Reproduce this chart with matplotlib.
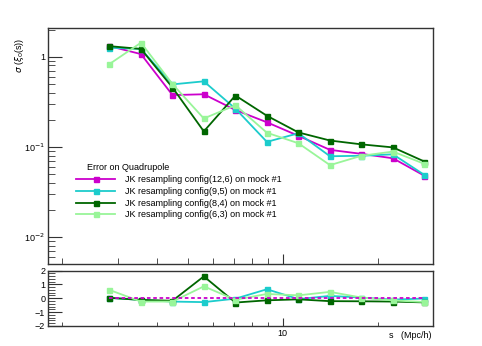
import matplotlib
matplotlib.use("Agg")
import matplotlib.pyplot as plt
from matplotlib.ticker import FixedLocator, NullFormatter, LogLocator, MultipleLocator

plt.rcParams['font.family'] = ['Liberation Sans', 'DejaVu Sans']

# bin centres s (Mpc/h)
s = [2.82, 3.55, 4.47, 5.62, 7.08, 8.91, 11.22, 14.13, 17.78, 22.39, 28.18]

# sigma of the quadrupole for each jackknife configuration
sig_12_6 = [1.31, 1.07, 0.376, 0.384, 0.257, 0.188, 0.133, 0.093, 0.084, 0.075, 0.048]
sig_9_5 = [1.26, 1.22, 0.494, 0.534, 0.266, 0.114, 0.142, 0.079, 0.080, 0.083, 0.049]
sig_8_4 = [1.31, 1.22, 0.456, 0.149, 0.372, 0.222, 0.145, 0.118, 0.107, 0.099, 0.069]
sig_6_3 = [0.83, 1.43, 0.498, 0.207, 0.290, 0.144, 0.110, 0.063, 0.080, 0.089, 0.065]

# relative difference wrt config(12,6)
rel_12_6 = [0, 0, 0, 0, 0, 0, 0, 0, 0, 0, 0]
rel_9_5 = [0.03, -0.12, -0.24, -0.28, -0.03, 0.65, -0.06, 0.17, 0.05, -0.10, -0.02]
rel_8_4 = [0.03, -0.12, -0.18, 1.58, -0.31, -0.15, -0.08, -0.21, -0.22, -0.24, -0.30]
rel_6_3 = [0.60, -0.24, -0.24, 0.86, -0.11, 0.31, 0.21, 0.46, 0.05, -0.16, -0.27]

labels = ['JK resampling config(12,6) on mock #1',
          'JK resampling config(9,5) on mock #1',
          'JK resampling config(8,4) on mock #1',
          'JK resampling config(6,3) on mock #1']
colors = ['#cc00cc', '#1ccccc', '#006600', '#99f599']

fig = plt.figure(figsize=(4.82, 3.46), dpi=100)
top = fig.add_axes([0.0996, 0.237, 0.7988, 0.682])
bot = fig.add_axes([0.0996, 0.058, 0.7988, 0.160])

for ys, c, lab in zip([sig_12_6, sig_9_5, sig_8_4, sig_6_3], colors, labels):
    top.plot(s, ys, color=c, lw=1.3, marker='s', ms=3.6, mec=c, label=lab)

top.set_xscale('log')
top.set_yscale('log')
top.set_xlim(1.8, 30)
top.set_ylim(0.00506, 2.08)

for ys, c in zip([rel_9_5, rel_8_4, rel_6_3], colors[1:]):
    bot.plot(s, ys, color=c, lw=1.3, marker='s', ms=3.6, mec=c)
bot.plot(s, rel_12_6, color=colors[0], lw=1.3, ls=(0, (2, 1.5)))
bot.set_xscale('log')
bot.set_xlim(1.8, 30)
bot.set_ylim(-2, 2)

for ax in (top, bot):
    for sp in ax.spines.values():
        sp.set_color('#333333')
        sp.set_linewidth(1.0)
    ax.tick_params(which='both', direction='in', top=False, right=False,
                   color='#333333', labelsize=6.5, pad=2)
    ax.xaxis.set_major_locator(FixedLocator([10]))
    ax.xaxis.set_minor_locator(FixedLocator([2, 3, 4, 5, 6, 7, 8, 9, 20]))
    ax.xaxis.set_minor_formatter(NullFormatter())

top.tick_params(axis='x', which='major', length=7, labelbottom=False)
top.tick_params(axis='x', which='minor', length=4)
top.tick_params(axis='y', which='major', length=10)
top.tick_params(axis='y', which='minor', length=5)
top.yaxis.set_major_locator(FixedLocator([0.01, 0.1, 1]))
top.set_yticklabels(['10$^{-2}$', '10$^{-1}$', '1'])
top.yaxis.set_minor_locator(LogLocator(base=10, subs=range(2, 10)))
top.yaxis.set_minor_formatter(NullFormatter())

bot.xaxis.set_major_formatter(plt.FuncFormatter(lambda v, p: '10'))
bot.tick_params(axis='x', which='major', length=6)
bot.tick_params(axis='x', which='minor', length=3)
bot.yaxis.set_major_locator(MultipleLocator(1))
bot.yaxis.set_minor_locator(MultipleLocator(0.2))
bot.tick_params(axis='y', which='major', length=10)
bot.tick_params(axis='y', which='minor', length=5)

top.text(0.101, 0.411, 'Error on Quadrupole', transform=top.transAxes,
         fontsize=6.5, ha='left', va='center')
top.legend(loc='upper left', bbox_to_anchor=(0.073, 0.376), frameon=False,
           fontsize=6.5, handlelength=4.3, handletextpad=1.1,
           labelspacing=0.3, borderaxespad=0, borderpad=0)

fig.text(0.040, 0.84, r'$\sigma$ ($\xi_0$(s))', rotation=90, fontsize=6.5,
         ha='center', va='center')
fig.text(0.895, 0.018, 's   (Mpc/h)', fontsize=6.5, ha='right', va='bottom')

fig.savefig('out.png', dpi=100)
